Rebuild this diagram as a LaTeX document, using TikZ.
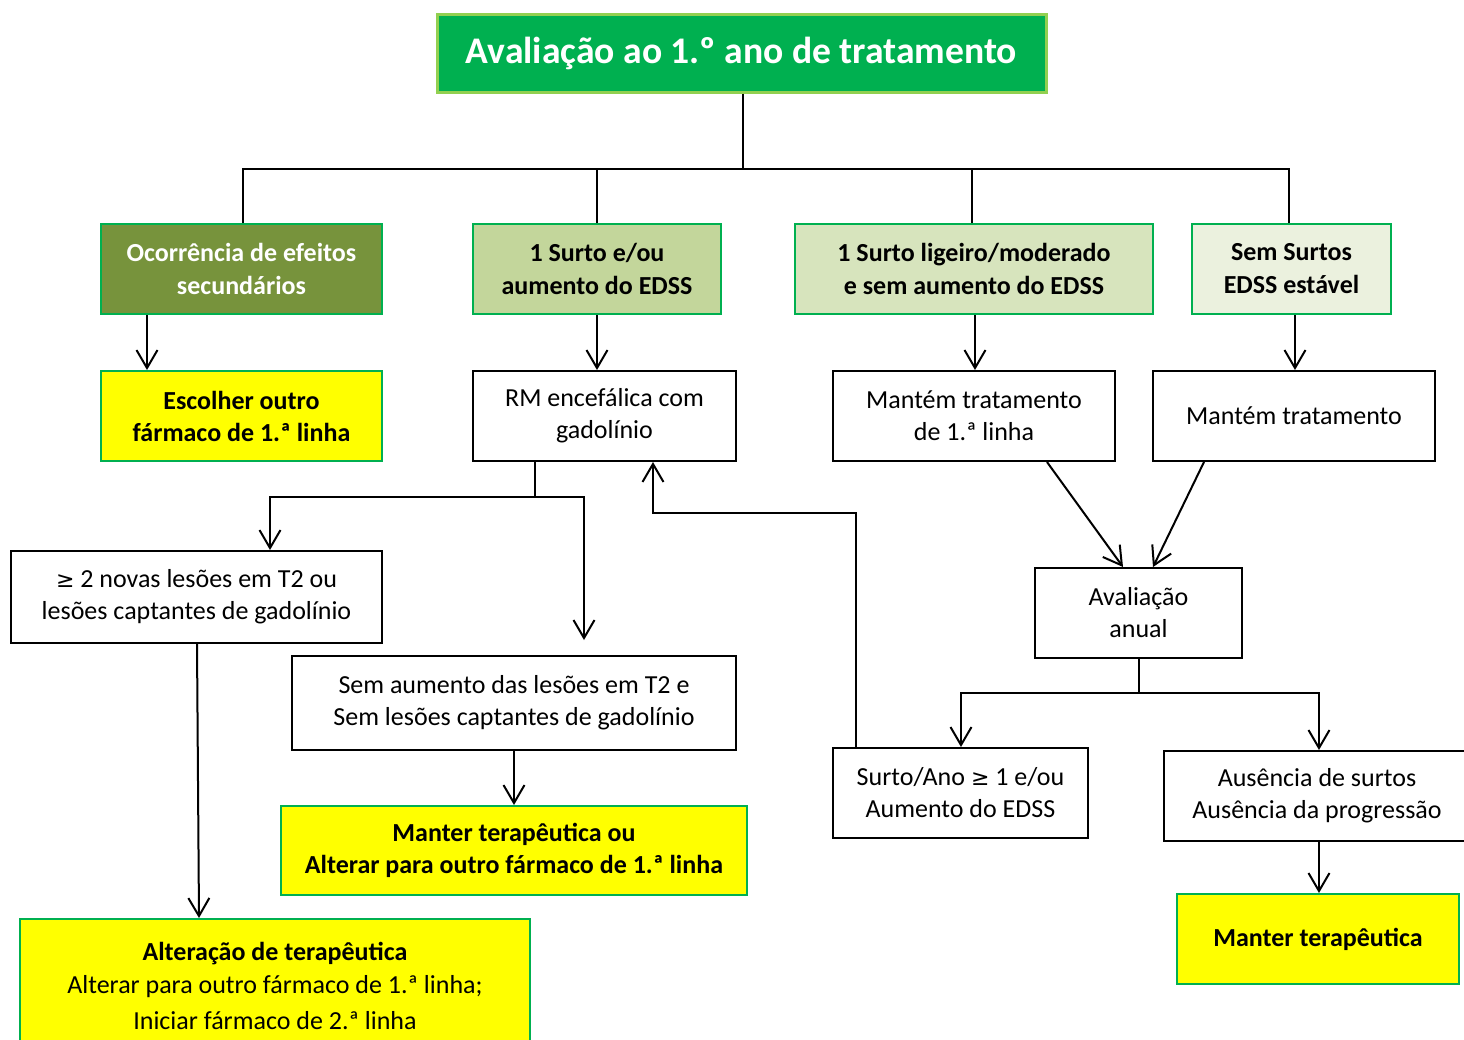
\documentclass[tikz,border=0pt]{standalone}
\usepackage{fontspec}
\setmainfont{Carlito}
\usetikzlibrary{arrows.meta}
\definecolor{tgreen}{HTML}{00B050}
\definecolor{lgreen}{HTML}{92D050}
\definecolor{olive}{HTML}{77933C}
\definecolor{g1}{HTML}{C3D69B}
\definecolor{g2}{HTML}{D7E4BD}
\definecolor{g3}{HTML}{EBF1DE}
\definecolor{yel}{HTML}{FFFF00}
\tikzset{
  sz/.style 2 args={minimum width=#1*0.5pt, minimum height=#2*0.5pt},
  base/.style={draw, inner sep=0pt, align=center, line width=1pt,
    font=\fontsize{13}{16}\selectfont},
  plainbox/.style={base, draw=black, fill=white},
  hdrbox/.style={base, draw=tgreen, font=\bfseries\fontsize{13}{16.5}\selectfont},
  yelbox/.style={base, draw=tgreen, fill=yel, font=\bfseries\fontsize{13}{16}\selectfont},
  titlebox/.style={base, draw=lgreen, fill=tgreen, line width=1.5pt, text=white,
    font=\bfseries\fontsize{18.8}{22}\selectfont},
  conn/.style={line width=1pt, draw=black},
  arr/.style={conn, -{Straight Barb[length=9pt,width=10.5pt,line width=1pt]}},
}
\begin{document}
\begin{tikzpicture}[x=0.5pt, y=-0.5pt]
\useasboundingbox (0,0) rectangle (1464,1040);
\clip (0,0) rectangle (1464,1040);
\fill[white] (0,0) rectangle (1464,1040);

% nodes
\node[titlebox, sz={609}{78}] (ti) at (741.5,53) {Avaliação ao 1.º ano de tratamento};

\node[hdrbox, fill=olive, text=white, sz={281}{90}] (oc) at (241.5,269) {Ocorrência de efeitos\\secundários};
\node[hdrbox, fill=g1, sz={248}{90}] (s1) at (597,269) {1 Surto e/ou\\aumento do EDSS};
\node[hdrbox, fill=g2, sz={358}{90}] (lig) at (974,269) {1 Surto ligeiro/moderado\\e sem aumento do EDSS};
\node[hdrbox, fill=g3, sz={199}{90}] (sem) at (1291.5,269) {Sem Surtos\\EDSS estável};

\node[yelbox, sz={281}{90}] (esc) at (241.5,416) {Escolher outro\\fármaco de 1.ª linha};
\node[plainbox, sz={263}{90}] (rm) at (604.5,416) {RM encefálica com\\gadolínio};
\node[plainbox, sz={282}{90}] (m1) at (974,416) {Mantém tratamento\\de 1.ª linha};
\node[plainbox, sz={282}{90}] (m2) at (1294,416) {Mantém tratamento};

\node[plainbox, sz={371}{92}] (nov) at (196.5,597) {{\fontspec{DejaVu Sans}\fontsize{11}{16}\selectfont≥} 2 novas lesões em T2 ou\\lesões captantes de gadolínio};
\node[plainbox, sz={444}{94}] (sau) at (514,703) {Sem aumento das lesões em T2 e\\Sem lesões captantes de gadolínio};
\node[yelbox, sz={466}{89}] (mto) at (514,850.5) {Manter terapêutica ou\\Alterar para outro fármaco de 1.ª linha};
\node[base, draw=tgreen, fill=yel, sz={510}{134}, font=\fontsize{13}{16.5}\selectfont] (alt) at (275,986) {\textbf{Alteração de terapêutica}\\Alterar para outro fármaco de 1.ª linha;\\[1.5pt]Iniciar fármaco de 2.ª linha};

\node[plainbox, sz={207}{90}] (an) at (1138.5,613) {Avaliação\\anual};
\node[plainbox, sz={255}{90}] (sa) at (960.5,793) {Surto/Ano {\fontspec{DejaVu Sans}\fontsize{11}{16}\selectfont≥} 1 e/ou\\Aumento do EDSS};
\node[plainbox, sz={306}{90}] (aus) at (1317,796) {Ausência de surtos\\Ausência da progressão};
\node[yelbox, sz={282}{90}] (mter) at (1318,939) {Manter terapêutica};

% top tree
\coordinate (hub) at (743,169);
\draw[conn] (ti.south -| hub) -- (hub);
\draw[conn] (243,0 |- oc.north) -- (243,0 |- hub) -- (1289,0 |- hub) -- (1289,0 |- sem.north);
\draw[conn] (597,0 |- s1.north) -- (597,0 |- hub);
\draw[conn] (972,0 |- lig.north) -- (972,0 |- hub);

% header arrows
\draw[arr] (147,0 |- oc.south) -- (147,0 |- esc.north);
\draw[arr] (597,0 |- s1.south) -- (597,0 |- rm.north);
\draw[arr] (975,0 |- lig.south) -- (975,0 |- m1.north);
\draw[arr] (1295,0 |- sem.south) -- (1295,0 |- m2.north);

% RM branch
\coordinate (rmj) at (535,497);
\coordinate (sautip) at (584,640);
\draw[conn] (535,0 |- rm.south) -- (rmj);
\draw[arr] (rmj) -| (270,0 |- nov.north);
\draw[arr] (rmj) -| (sautip);
\draw[arr] (197,0 |- nov.south) -- (199,0 |- alt.north);
\draw[arr] (sau.south) -- (mto.north);

% feedback
\draw[arr] (856,0 |- sa.north) |- (653,513) -- (653,0 |- rm.south);

% right side
\draw[arr] (1047,0 |- m1.south) -- (1123,0 |- an.north);
\draw[arr] (1204,0 |- m2.south) -- (1153,0 |- an.north);
\coordinate (anj) at (1139,693);
\draw[conn] (1139,0 |- an.south) -- (anj);
\draw[arr] (anj) -| (961,0 |- sa.north);
\draw[arr] (anj) -| (1319,0 |- aus.north);
\draw[arr] (1319,0 |- aus.south) -- (1319,0 |- mter.north);
\end{tikzpicture}
\end{document}
